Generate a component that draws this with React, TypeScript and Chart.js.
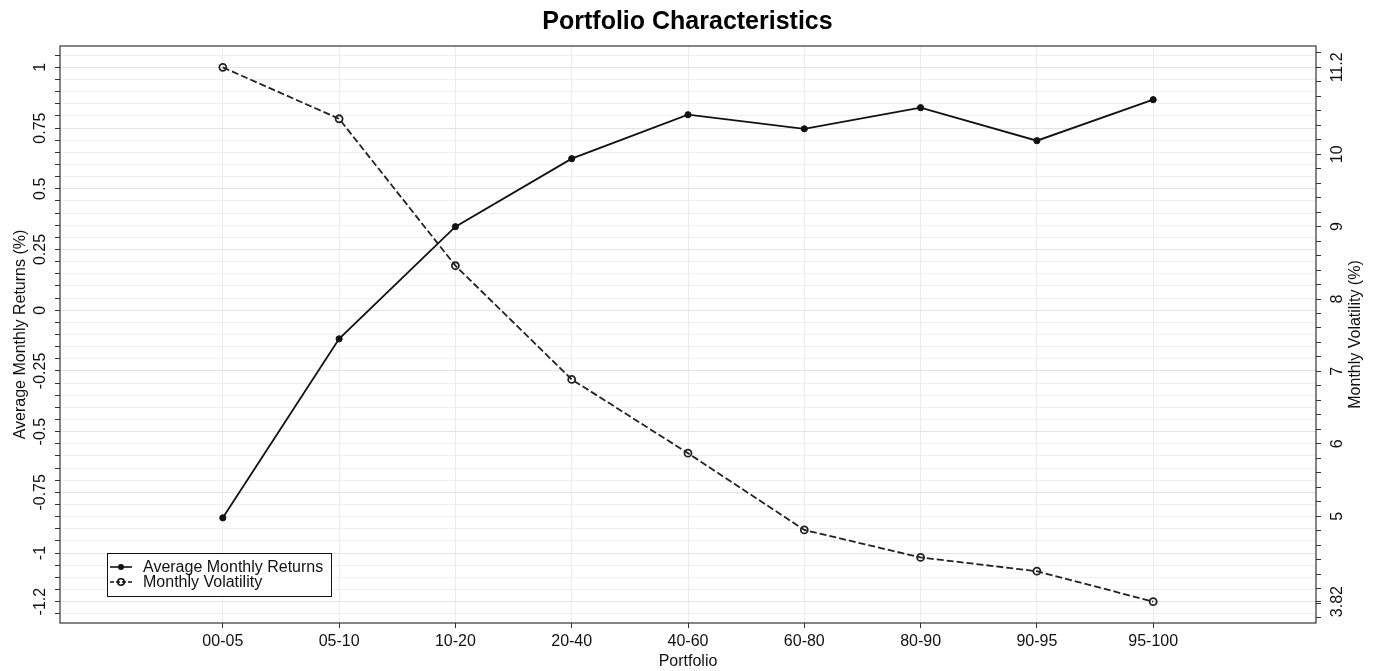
import { useEffect, useRef } from "react";
import { Chart, registerables } from "chart.js";

Chart.register(...registerables);

const categories = ["00-05", "05-10", "10-20", "20-40", "40-60", "60-80", "80-90", "90-95", "95-100"];
const avgReturns = [-0.855, -0.118, 0.344, 0.624, 0.805, 0.747, 0.834, 0.698, 0.867];
const volatility = [11.2, 10.49, 8.46, 6.89, 5.87, 4.81, 4.43, 4.24, 3.82];
const leftTickLabels = [-1.2, -1, -0.75, -0.5, -0.25, 0, 0.25, 0.5, 0.75, 1];
const rightTickLabels = [3.82, 5, 6, 7, 8, 9, 10, 11.2];

const FONT = "'Liberation Sans', Arial, Helvetica, sans-serif";

export default function App() {
  const ref = useRef<HTMLCanvasElement | null>(null);

  useEffect(() => {
    if (!ref.current) return;

    const leftLo = Math.min(...leftTickLabels);
    const leftHi = Math.max(...leftTickLabels);
    const leftPad = (leftHi - leftLo) * 0.04;
    const volLo = Math.min(...volatility);
    const volHi = Math.max(...volatility);
    const volPad = (volHi - volLo) * 0.04;

    const isLeftMajor = (v: number) => leftTickLabels.some((t) => Math.abs(t - v) < 1e-6);

    const overlay = {
      id: "overlay",
      afterDraw(chart: any) {
        const { ctx, chartArea } = chart;
        const { left, right, top, bottom } = chartArea;
        const yL = chart.scales.y;
        const yR = chart.scales.y2;
        ctx.save();
        // frame
        ctx.strokeStyle = "#333";
        ctx.lineWidth = 1.2;
        ctx.strokeRect(left, top, right - left, bottom - top);

        ctx.fillStyle = "#111";
        ctx.font = `16px ${FONT}`;
        ctx.textAlign = "center";
        ctx.textBaseline = "middle";
        const rotText = (txt: string, x: number, y: number) => {
          ctx.save();
          ctx.translate(x, y);
          ctx.rotate(-Math.PI / 2);
          ctx.fillText(txt, 0, 0);
          ctx.restore();
        };
        leftTickLabels.forEach((v) => rotText(String(v), left - 19, yL.getPixelForValue(v)));
        rightTickLabels.forEach((v) => rotText(String(v), right + 22, yR.getPixelForValue(v)));
        const midY = (top + bottom) / 2;
        rotText("Average Monthly Returns (%)", left - 39, midY);
        rotText("Monthly Volatility (%)", right + 40, midY);

        // legend
        const bx = left + 47;
        const by = bottom - 70;
        const bw = 224;
        const bh = 43;
        ctx.fillStyle = "#fff";
        ctx.fillRect(bx, by, bw, bh);
        ctx.strokeStyle = "#111";
        ctx.lineWidth = 1;
        ctx.strokeRect(bx + 0.5, by + 0.5, bw, bh);
        const rows = [
          { label: "Average Monthly Returns", dash: [] as number[], filled: true, y: by + 14 },
          { label: "Monthly Volatility", dash: [4, 2], filled: false, y: by + 29 },
        ];
        rows.forEach((r) => {
          ctx.strokeStyle = "#111";
          ctx.lineWidth = 1.6;
          ctx.setLineDash(r.dash);
          ctx.beginPath();
          ctx.moveTo(bx + 3, r.y);
          ctx.lineTo(bx + 25, r.y);
          ctx.stroke();
          ctx.setLineDash([]);
          ctx.beginPath();
          ctx.arc(bx + 14, r.y, r.filled ? 3 : 3.2, 0, Math.PI * 2);
          if (r.filled) {
            ctx.fillStyle = "#111";
            ctx.fill();
          } else {
            ctx.stroke();
          }
          ctx.fillStyle = "#111";
          ctx.textAlign = "left";
          ctx.textBaseline = "middle";
          ctx.font = `16px ${FONT}`;
          ctx.fillText(r.label, bx + 36, r.y + 1);
        });
        ctx.restore();
      },
    };

    const chart = new Chart(ref.current, {
      type: "line",
      data: {
        datasets: [
          {
            label: "Average Monthly Returns",
            data: avgReturns.map((v, i) => ({ x: i, y: v })),
            yAxisID: "y",
            borderColor: "#111",
            backgroundColor: "#111",
            borderWidth: 1.8,
            pointRadius: 3.1,
            pointBorderWidth: 1,
            pointBackgroundColor: "#111",
            pointBorderColor: "#111",
            tension: 0,
          },
          {
            label: "Monthly Volatility",
            data: volatility.map((v, i) => ({ x: i, y: v })),
            yAxisID: "y2",
            borderColor: "#222",
            borderDash: [7, 3],
            borderWidth: 1.8,
            pointRadius: 3.5,
            pointBorderWidth: 1.8,
            pointBackgroundColor: "rgba(0,0,0,0)",
            pointBorderColor: "#222",
            tension: 0,
          },
        ],
      },
      options: {
        responsive: false,
        animation: false,
        layout: { padding: 0 },
        plugins: {
          legend: { display: false },
          tooltip: { enabled: false },
          title: {
            display: true,
            text: "Portfolio Characteristics",
            color: "#000",
            font: { family: FONT, size: 25, weight: "bold" },
            padding: { top: 7, bottom: 9 },
          },
        },
        scales: {
          x: {
            type: "linear",
            min: -1.4,
            max: categories.length - 1 + 1.4,
            afterBuildTicks: (s: any) => {
              s.ticks = categories.map((_, i) => ({ value: i }));
            },
            afterFit: (s: any) => {
              s.height = 48;
            },
            ticks: {
              callback: (v: any) => categories[Math.round(Number(v))] ?? "",
              color: "#111",
              font: { family: FONT, size: 16 },
              padding: 4,
              maxRotation: 0,
              minRotation: 0,
              autoSkip: false,
            },
            grid: { color: "#ececec", tickColor: "#333", tickLength: 5, drawTicks: true },
            border: { display: false },
            title: {
              display: true,
              text: "Portfolio",
              color: "#111",
              font: { family: FONT, size: 16 },
              padding: { top: 0, bottom: 0 },
            },
          },
          y: {
            position: "left",
            min: leftLo - leftPad,
            max: leftHi + leftPad,
            afterBuildTicks: (s: any) => {
              const ticks: any[] = [];
              const k0 = Math.ceil((leftLo - leftPad) / 0.05 - 1e-9);
              const k1 = Math.floor((leftHi + leftPad) / 0.05 + 1e-9);
              for (let k = k0; k <= k1; k++) ticks.push({ value: Math.round(k * 5) / 100 });
              s.ticks = ticks;
            },
            afterFit: (s: any) => {
              s.width = 60;
            },
            ticks: { display: false },
            grid: {
              color: (c: any) => (c.tick && isLeftMajor(c.tick.value) ? "#e3e3e3" : "#efefef"),
              tickColor: "#333",
              tickLength: 5,
            },
            border: { display: false },
          },
          y2: {
            position: "right",
            min: volLo - volPad,
            max: volHi + volPad,
            afterBuildTicks: (s: any) => {
              const ticks: any[] = [];
              const k0 = Math.ceil((volLo - volPad) / 0.2 - 1e-9);
              const k1 = Math.floor((volHi + volPad) / 0.2 + 1e-9);
              for (let k = k0; k <= k1; k++) ticks.push({ value: Math.round(k * 20) / 100 });
              rightTickLabels.forEach((v) => {
                if (!ticks.some((t) => Math.abs(t.value - v) < 1e-6)) ticks.push({ value: v });
              });
              s.ticks = ticks;
            },
            afterFit: (s: any) => {
              s.width = 59;
            },
            ticks: { display: false },
            grid: { drawOnChartArea: false, tickColor: "#333", tickLength: 5 },
            border: { display: false },
          },
        },
      } as any,
      plugins: [overlay],
    });

    return () => chart.destroy();
  }, []);

  return (
    <div style={{ position: "fixed", left: 0, top: 0, width: 1375, height: 671, background: "#fff" }}>
      <canvas ref={ref} width={1375} height={671} style={{ display: "block" }} />
    </div>
  );
}
